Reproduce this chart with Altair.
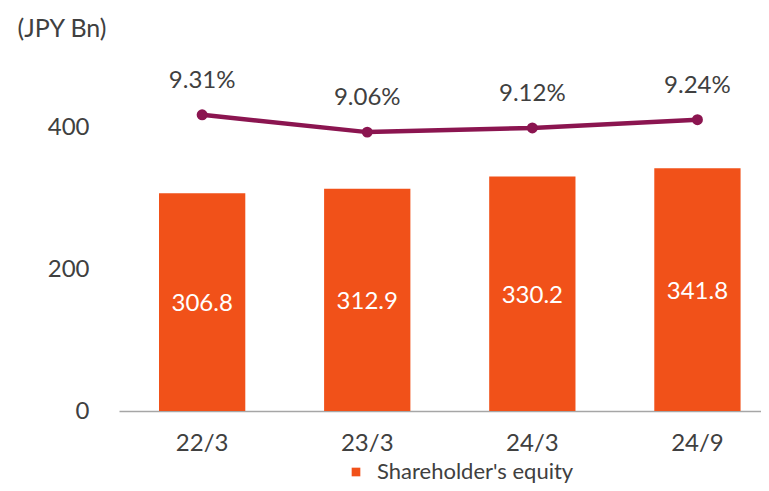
import altair as alt
import pandas as pd

periods = ["22/3", "23/3", "24/3", "24/9"]
equity = [306.8, 312.9, 330.2, 341.8]
ratio = [9.31, 9.06, 9.12, 9.24]
ratio_labels = ["9.31%", "9.06%", "9.12%", "9.24%"]
y_ticks = [0, 200, 400]
series_name = "Shareholder's equity"

df = pd.DataFrame({
    "period": periods,
    "equity": equity,
    "ratio": ratio,
    "ratio_label": ratio_labels,
    "series": [series_name] * len(periods),
})
df["mid"] = df["equity"] / 2
df["equity_label"] = df["equity"].map(lambda v: f"{v:.1f}")

FONT = "Lato"
TXT = "#404040"
ORANGE = "#F15119"
PLUM = "#8B1550"

xscale = alt.Scale(domain=periods, paddingInner=0.4773, paddingOuter=0.183, align=0.662)
x = alt.X("period:N", sort=periods, scale=xscale,
          axis=alt.Axis(title=None, labelAngle=0, labelFontSize=24, labelFont=FONT,
                        labelColor=TXT, ticks=False, domainColor="#a6a6a6",
                        domainWidth=1.5, labelPadding=32, labelBaseline="middle"))

yscale = alt.Scale(domain=[0, 500], nice=False)

bars = alt.Chart(df).mark_bar(color=ORANGE).encode(
    x=x,
    y=alt.Y("equity:Q", scale=yscale,
            axis=alt.Axis(values=y_ticks, grid=False, domain=False, ticks=False,
                          labelFontSize=24, labelFont=FONT, labelColor=TXT,
                          labelPadding=30, title="(JPY Bn)", titleAngle=0,
                          titleAlign="left", titleBaseline="middle",
                          titleX=-102, titleY=-28, titleFont=FONT,
                          titleFontSize=25, titleFontWeight="normal",
                          titleColor=TXT)),
    fill=alt.Fill("series:N", scale=alt.Scale(domain=[series_name], range=[ORANGE]),
                  legend=alt.Legend(title=None, orient="none", legendX=226, legendY=405,
                                    symbolType="square", symbolSize=75,
                                    labelFont=FONT, labelFontSize=22, labelColor=TXT,
                                    labelOffset=10, labelLimit=0, symbolStrokeWidth=0)),
)

bar_text = alt.Chart(df).mark_text(color="white", fontSize=24, font=FONT,
                                   baseline="middle", dy=2).encode(
    x=alt.X("period:N", sort=periods, scale=xscale),
    y=alt.Y("mid:Q", scale=yscale),
    text="equity_label:N",
)

left = alt.layer(bars, bar_text)

rscale = alt.Scale(domain=[5.03, 10.16], nice=False, zero=False)

line = alt.Chart(df).mark_line(color=PLUM, strokeWidth=4.5).encode(
    x=alt.X("period:N", sort=periods, scale=xscale),
    y=alt.Y("ratio:Q", scale=rscale, axis=None),
)
pts = alt.Chart(df).mark_point(filled=True, color=PLUM, size=120, opacity=1).encode(
    x=alt.X("period:N", sort=periods, scale=xscale),
    y=alt.Y("ratio:Q", scale=rscale, axis=None),
)
pct_text = alt.Chart(df).mark_text(color=TXT, fontSize=24, font=FONT,
                                   baseline="middle", dy=-34).encode(
    x=alt.X("period:N", sort=periods, scale=xscale),
    y=alt.Y("ratio:Q", scale=rscale, axis=None),
    text="ratio_label:N",
)

right = alt.layer(line, pts, pct_text)

chart = alt.layer(left, right).resolve_scale(y="independent").properties(
    width=642, height=355,
    autosize=alt.AutoSizeParams(type="none"),
    padding={"left": 111, "top": 48, "right": 0, "bottom": 72},
).configure_view(stroke=None)

chart.save("out.html", embed_options={"renderer": "svg", "actions": False})
